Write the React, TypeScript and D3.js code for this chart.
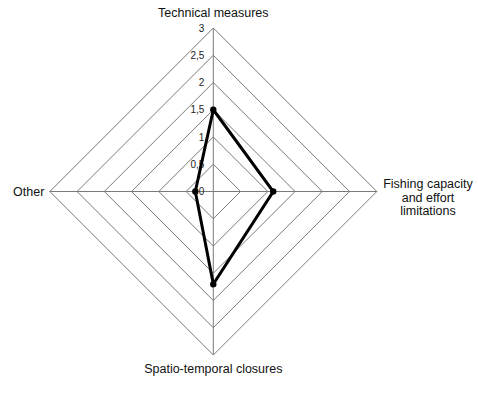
import React, { useEffect, useRef } from 'react'
import * as d3 from 'd3'

const axes = ['Technical measures', 'Fishing capacity and effort limitations', 'Spatio-temporal closures', 'Other']
const axisLines = [['Technical measures'], ['Fishing capacity', 'and effort', 'limitations'], ['Spatio-temporal closures'], ['Other']]
const values = [1.5, 1.1, 1.7, 0.33]
const ticks = [0, 0.5, 1, 1.5, 2, 2.5, 3]
const tickLabels = ['0', '0,5', '1', '1,5', '2', '2,5', '3']

const App = () => {
    const ref = useRef<SVGSVGElement>(null)

    useEffect(() => {
        const width = 478,
            height = 413
        const cx = 213.3,
            cy = 191.5,
            radius = 163.5

        const svg = d3.select(ref.current)
        svg.selectAll('*').remove()
        const g = svg.append('g').attr('transform', `translate(${cx},${cy})`)

        const r = d3.scaleLinear().domain([0, 3]).range([0, radius])
        // top, right, bottom, left
        const angle = (i: number) => (i * 2 * Math.PI) / axes.length - Math.PI / 2
        const pt = (i: number, v: number): [number, number] => [Math.cos(angle(i)) * r(v), Math.sin(angle(i)) * r(v)]

        // grid rings
        g.selectAll('ring')
            .data(ticks.slice(1))
            .join('polygon')
            .attr('points', t => axes.map((_, i) => pt(i, t).join(',')).join(' '))
            .attr('fill', 'none')
            .attr('stroke', '#7a7a7a')
            .attr('stroke-width', 1)

        // spokes
        g.selectAll('spoke')
            .data(axes)
            .join('line')
            .attr('x1', 0).attr('y1', 0)
            .attr('x2', (_, i) => pt(i, 3)[0])
            .attr('y2', (_, i) => pt(i, 3)[1])
            .attr('stroke', '#7a7a7a')
            .attr('stroke-width', 1)

        // tick labels along the top axis
        g.selectAll('tick')
            .data(ticks)
            .join('text')
            .attr('x', -9)
            .attr('y', t => -r(t) + 3.5)
            .attr('text-anchor', 'end')
            .style('font-family', '"Liberation Sans", Arial, sans-serif')
            .style('font-size', '10px')
            .attr('fill', '#222')
            .text((_, i) => tickLabels[i])

        // data polygon
        const line = d3.line().curve(d3.curveLinearClosed)
        g.append('path')
            .attr('d', line(values.map((v, i) => pt(i, v))))
            .attr('fill', 'none')
            .attr('stroke', '#000')
            .attr('stroke-width', 3)
            .attr('stroke-linejoin', 'miter')

        g.selectAll('dot')
            .data(values)
            .join('circle')
            .attr('cx', (v, i) => pt(i, v)[0])
            .attr('cy', (v, i) => pt(i, v)[1])
            .attr('r', 3.2)
            .attr('fill', '#000')

        // axis labels
        const labelPos: [number, number, string][] = [
            [0, -174.8, 'middle'],
            [214.7, -3.5, 'middle'],
            [0, 181, 'middle'],
            [-169, 4, 'end'],
        ]
        axisLines.forEach((lines, i) => {
            const [x, y, anchor] = labelPos[i]
            const t = g.append('text')
                .attr('text-anchor', anchor)
                .style('font-family', '"Liberation Sans", Arial, sans-serif')
                .style('font-size', '12.5px')
                .attr('fill', '#111')
            lines.forEach((l, k) => {
                t.append('tspan').attr('x', x).attr('y', y + k * 13.5).text(l)
            })
        })

        svg.attr('width', width).attr('height', height)
    }, [])

    return (
        <svg ref={ref} width={478} height={413} style={{ position: 'absolute', left: 0, top: 0, background: '#fff' }} />
    )
}

export default App
